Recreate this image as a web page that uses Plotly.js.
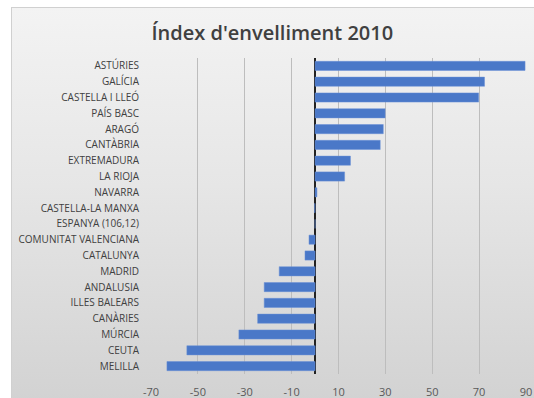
<!DOCTYPE html>
<html><head><meta charset="utf-8">
<script src="https://cdn.plot.ly/plotly-3.0.1.min.js"></script>
<style>
html,body{margin:0;padding:0;background:#fff;width:534px;height:398px;overflow:hidden;}
#bg{position:absolute;left:11px;top:7px;width:530px;height:395px;border:1px solid #d0d0d0;
background:linear-gradient(to bottom,#f3f3f3 0%,#e6e6e6 45%,#d2d2d2 100%);}
#chart{position:absolute;left:0;top:0;width:534px;height:398px;}
</style></head><body>
<div id="bg"></div>
<div id="chart"></div>
<script>
const regions = ["ASTÚRIES","GALÍCIA","CASTELLA I LLEÓ","PAÍS BASC","ARAGÓ","CANTÀBRIA","EXTREMADURA","LA RIOJA","NAVARRA","CASTELLA-LA MANXA","ESPANYA (106,12)","COMUNITAT VALENCIANA","CATALUNYA","MADRID","ANDALUSIA","ILLES BALEARS","CANÀRIES","MÚRCIA","CEUTA","MELILLA"];
const values = [89.6,72.3,69.8,29.9,29.1,27.8,15.1,12.6,0.8,-0.2,0,-2.6,-4.3,-15.3,-21.7,-21.7,-24.5,-32.5,-54.7,-63.2];
const tickValues = [-70,-50,-30,-10,10,30,50,70,90];

Plotly.newPlot('chart',[{
  type:'bar', orientation:'h',
  x: values.slice().reverse(), y: regions.slice().reverse(),
  marker:{color:'#4a78c8', line:{color:'#6b91d6',width:0.5}},
  hoverinfo:'x+y'
}],{
  width:534,height:398,
  paper_bgcolor:'rgba(0,0,0,0)',plot_bgcolor:'rgba(0,0,0,0)',
  margin:{l:151,r:8,t:58,b:24},
  bargap:0.42,
  showlegend:false,
  title:{text:"Índex d'envelliment 2010",font:{family:'Open Sans, sans-serif',size:20,color:'#404040',weight:600},x:0.51,xanchor:'center',y:0.918,yanchor:'middle'},
  xaxis:{range:[-70,90],tickvals:tickValues,ticktext:tickValues.map(String),
    showgrid:true,gridcolor:'#bdbdbd',gridwidth:1,
    zeroline:true,zerolinecolor:'#222',zerolinewidth:2,
    showline:false,ticks:'',ticklabelstandoff:10,
    tickfont:{family:'Open Sans, sans-serif',size:11,color:'#595959'}},
  yaxis:{type:'category',automargin:false,showgrid:false,zeroline:false,showline:false,ticks:'',
    ticklabelstandoff:11,
    tickfont:{family:'Open Sans, sans-serif',size:10,color:'#404040'}}
},{displayModeBar:false,staticPlot:true});
</script>
</body></html>
